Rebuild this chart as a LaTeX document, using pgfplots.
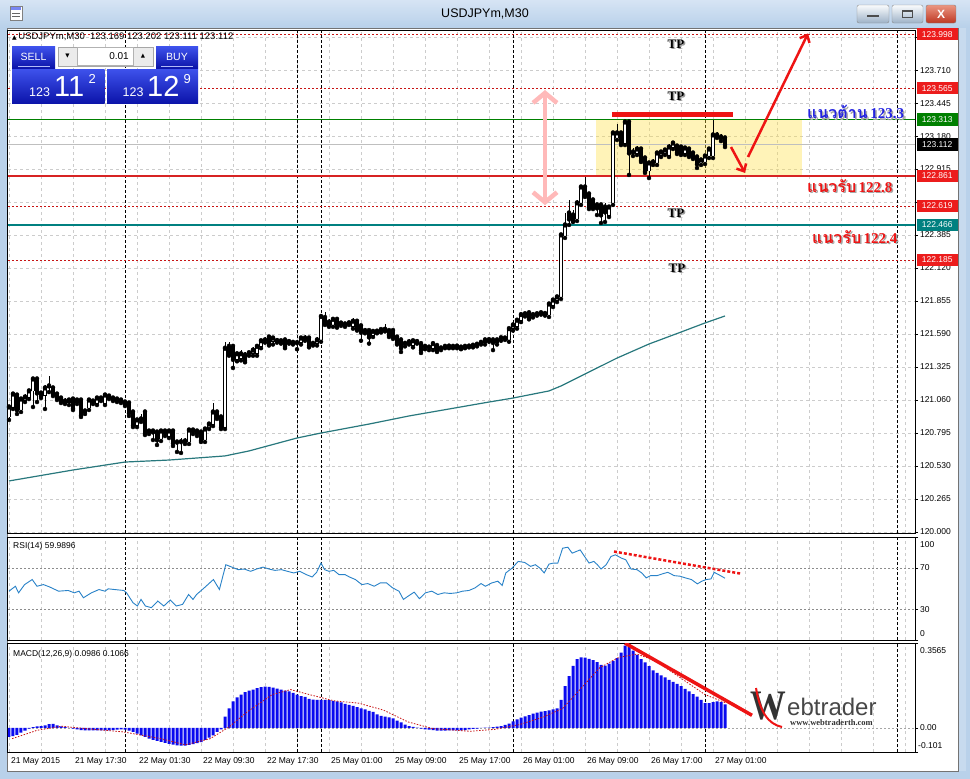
\documentclass[border=0pt]{standalone}
\usepackage{pgfplots}
\pgfplotsset{compat=1.18}
\usepackage{pgfplotstable}
\usetikzlibrary{arrows.meta}
\usepackage{fontspec}
\setmainfont{Liberation Serif}
\newfontfamily\ui{Liberation Sans}
\newfontfamily\thaifont[Script=Thai]{Loma}
\newfontfamily\dv{DejaVu Sans}

\definecolor{frameblue}{RGB}{185,209,234}
\definecolor{titletop}{RGB}{214,228,244}
\definecolor{btnTop}{RGB}{62,82,236}
\definecolor{btnBot}{RGB}{12,20,170}
\definecolor{tagred}{RGB}{236,28,28}
\definecolor{dred}{RGB}{200,20,20}
\definecolor{sred}{RGB}{215,35,35}
\definecolor{lgreen}{RGB}{0,128,0}
\definecolor{lteal}{RGB}{0,128,128}
\definecolor{maline}{RGB}{40,120,125}
\definecolor{rsiline}{RGB}{40,130,200}
\definecolor{macdblue}{RGB}{10,10,240}
\definecolor{ybox}{RGB}{255,225,70}
\definecolor{pinkar}{RGB}{255,185,185}
\definecolor{arred}{RGB}{238,20,20}
\definecolor{thblue}{RGB}{35,35,225}

\pgfplotstableread{
i o h l c
0 120.924 121.020 120.900 121.004
1 121.004 121.124 120.988 121.108
2 121.100 121.116 120.948 120.980
3 120.980 121.084 120.964 121.068
4 121.060 121.108 121.044 121.084
5 121.084 121.149 121.068 121.133
6 121.133 121.245 121.004 121.229
7 121.229 121.245 121.044 121.116
8 121.116 121.133 121.076 121.092
9 121.100 121.181 120.988 121.157
10 121.157 121.253 121.124 121.173
11 121.157 121.173 121.092 121.108
12 121.108 121.124 121.060 121.076
13 121.076 121.092 121.036 121.052
14 121.052 121.076 121.028 121.044
15 121.044 121.076 121.020 121.060
16 121.068 121.084 120.980 120.996
17 121.044 121.076 121.028 121.060
18 121.060 121.076 120.924 120.940
19 120.956 120.988 120.948 120.972
20 120.996 121.076 120.980 121.060
21 121.052 121.068 121.028 121.050
22 121.036 121.092 121.020 121.076
23 121.076 121.092 121.052 121.074
24 121.036 121.116 121.020 121.100
25 121.092 121.108 121.068 121.084
26 121.076 121.092 121.052 121.068
27 121.068 121.084 121.044 121.060
28 121.060 121.076 121.036 121.052
29 121.044 121.060 121.012 121.028
30 121.036 121.052 120.932 120.956
31 120.964 120.980 120.843 120.859
32 120.859 120.916 120.843 120.900
33 120.900 120.948 120.884 120.908
34 120.964 120.980 120.779 120.795
35 120.803 120.827 120.787 120.811
36 120.811 120.827 120.739 120.803
37 120.803 120.819 120.699 120.739
38 120.747 120.827 120.731 120.811
39 120.811 120.819 120.771 120.795
40 120.771 120.827 120.755 120.811
41 120.811 120.819 120.691 120.715
42 120.723 120.739 120.643 120.721
43 120.723 120.755 120.635 120.725
44 120.731 120.755 120.707 120.729
45 120.723 120.835 120.707 120.819
46 120.819 120.835 120.787 120.811
47 120.811 120.827 120.771 120.795
48 120.803 120.819 120.723 120.739
49 120.739 120.843 120.723 120.827
50 120.835 120.884 120.827 120.867
51 120.867 121.036 120.851 120.964
52 120.964 120.980 120.908 120.924
53 120.924 120.940 120.827 120.843
54 120.843 121.528 120.827 121.476
55 121.491 121.528 121.416 121.431
56 121.491 121.506 121.318 121.386
57 121.386 121.446 121.371 121.431
58 121.393 121.461 121.378 121.431
59 121.423 121.446 121.363 121.378
60 121.438 121.453 121.416 121.440
61 121.431 121.483 121.416 121.461
62 121.431 121.506 121.416 121.491
63 121.491 121.551 121.476 121.536
64 121.536 121.566 121.521 121.543
65 121.566 121.581 121.498 121.513
66 121.528 121.573 121.506 121.558
67 121.536 121.558 121.521 121.538
68 121.536 121.551 121.513 121.534
69 121.543 121.558 121.476 121.491
70 121.528 121.543 121.513 121.530
71 121.521 121.536 121.506 121.523
72 121.521 121.536 121.468 121.519
73 121.521 121.573 121.506 121.558
74 121.558 121.581 121.536 121.556
75 121.558 121.573 121.483 121.498
76 121.513 121.536 121.498 121.515
77 121.513 121.566 121.498 121.543
78 121.543 121.753 121.528 121.731
79 121.723 121.768 121.663 121.678
80 121.686 121.708 121.648 121.663
81 121.663 121.723 121.648 121.708
82 121.708 121.723 121.641 121.656
83 121.678 121.693 121.656 121.676
84 121.671 121.686 121.648 121.669
85 121.678 121.693 121.663 121.680
86 121.648 121.716 121.633 121.693
87 121.693 121.708 121.618 121.633
88 121.656 121.671 121.536 121.603
89 121.618 121.641 121.596 121.616
90 121.618 121.633 121.513 121.566
91 121.581 121.626 121.566 121.611
92 121.611 121.633 121.596 121.613
93 121.626 121.641 121.603 121.624
94 121.626 121.671 121.611 121.628
95 121.618 121.633 121.566 121.581
96 121.618 121.633 121.551 121.566
97 121.566 121.581 121.506 121.521
98 121.543 121.558 121.446 121.476
99 121.513 121.536 121.491 121.515
100 121.528 121.551 121.506 121.526
101 121.498 121.551 121.483 121.536
102 121.528 121.551 121.513 121.530
103 121.513 121.528 121.438 121.461
104 121.491 121.513 121.468 121.489
105 121.483 121.498 121.461 121.485
106 121.476 121.528 121.461 121.513
107 121.498 121.513 121.446 121.461
108 121.476 121.491 121.461 121.478
109 121.491 121.506 121.476 121.489
110 121.491 121.506 121.476 121.493
111 121.491 121.506 121.476 121.489
112 121.491 121.506 121.476 121.493
113 121.483 121.498 121.468 121.485
114 121.491 121.506 121.476 121.489
115 121.491 121.506 121.483 121.493
116 121.498 121.513 121.483 121.500
117 121.506 121.521 121.491 121.508
118 121.521 121.536 121.506 121.523
119 121.521 121.558 121.506 121.543
120 121.543 121.558 121.528 121.545
121 121.543 121.558 121.461 121.521
122 121.521 121.558 121.506 121.543
123 121.558 121.573 121.536 121.560
124 121.558 121.573 121.543 121.556
125 121.543 121.648 121.528 121.633
126 121.633 121.678 121.618 121.663
127 121.648 121.716 121.633 121.701
128 121.701 121.761 121.686 121.746
129 121.746 121.768 121.731 121.753
130 121.761 121.776 121.708 121.723
131 121.738 121.761 121.723 121.746
132 121.746 121.768 121.738 121.753
133 121.753 121.776 121.746 121.761
134 121.753 121.768 121.738 121.755
135 121.743 121.847 121.727 121.831
136 121.823 121.880 121.807 121.863
137 121.863 121.904 121.847 121.888
138 121.888 122.402 121.872 122.386
139 122.378 122.562 122.362 122.466
140 122.562 122.667 122.466 122.514
141 122.546 122.586 122.490 122.498
142 122.514 122.667 122.498 122.643
143 122.643 122.787 122.627 122.771
144 122.771 122.851 122.691 122.707
145 122.715 122.731 122.594 122.610
146 122.667 122.683 122.594 122.610
147 122.627 122.643 122.546 122.602
148 122.627 122.643 122.482 122.546
149 122.610 122.643 122.490 122.570
150 122.546 122.627 122.530 122.610
151 122.643 123.221 122.627 123.205
152 123.165 123.277 123.149 123.205
153 123.205 123.221 123.108 123.124
154 123.124 123.309 123.108 123.293
155 123.293 123.309 122.868 123.044
156 123.052 123.084 123.020 123.050
157 123.044 123.100 123.028 123.076
158 123.076 123.092 122.972 122.988
159 123.004 123.020 122.884 122.900
160 122.900 122.980 122.843 122.964
161 122.972 122.996 122.948 122.970
162 122.964 123.060 122.948 123.044
163 123.028 123.068 123.012 123.052
164 123.044 123.084 123.028 123.068
165 123.028 123.116 123.012 123.092
166 123.092 123.140 123.076 123.124
167 123.100 123.116 123.036 123.052
168 123.092 123.108 123.028 123.044
169 123.044 123.100 123.028 123.084
170 123.076 123.092 123.012 123.028
171 123.044 123.060 122.996 123.012
172 123.012 123.028 122.924 122.956
173 122.964 123.004 122.948 122.988
174 122.972 123.036 122.956 123.020
175 123.020 123.092 123.004 123.076
176 123.020 123.309 123.004 123.189
177 123.189 123.213 123.165 123.181
178 123.173 123.197 123.140 123.165
179 123.165 123.181 123.092 123.112
}\candles

\pgfplotstableread{
i v
0 -0.038
1 -0.034
2 -0.029
3 -0.020
4 -0.011
5 -0.003
6 0.003
7 0.007
8 0.008
9 0.011
10 0.016
11 0.017
12 0.011
13 0.007
14 0.004
15 0.000
16 -0.003
17 -0.006
18 -0.009
19 -0.010
20 -0.010
21 -0.010
22 -0.010
23 -0.010
24 -0.010
25 -0.010
26 -0.009
27 -0.007
28 -0.006
29 -0.007
30 -0.011
31 -0.017
32 -0.024
33 -0.031
34 -0.038
35 -0.045
36 -0.050
37 -0.054
38 -0.058
39 -0.063
40 -0.067
41 -0.070
42 -0.073
43 -0.074
44 -0.074
45 -0.071
46 -0.068
47 -0.064
48 -0.060
49 -0.050
50 -0.041
51 -0.031
52 -0.017
53 -0.006
54 0.047
55 0.082
56 0.111
57 0.128
58 0.140
59 0.150
60 0.157
61 0.161
62 0.167
63 0.171
64 0.173
65 0.172
66 0.169
67 0.165
68 0.161
69 0.157
70 0.153
71 0.147
72 0.140
73 0.134
74 0.130
75 0.122
76 0.119
77 0.118
78 0.118
79 0.118
80 0.117
81 0.114
82 0.111
83 0.107
84 0.101
85 0.097
86 0.093
87 0.087
88 0.082
89 0.078
90 0.072
91 0.067
92 0.057
93 0.051
94 0.047
95 0.044
96 0.040
97 0.031
98 0.023
99 0.014
100 0.008
101 0.004
102 0.001
103 -0.003
104 -0.006
105 -0.007
106 -0.009
107 -0.011
108 -0.011
109 -0.011
110 -0.010
111 -0.010
112 -0.010
113 -0.010
114 -0.009
115 -0.006
116 -0.004
117 -0.003
118 0.000
119 0.001
120 0.001
121 0.003
122 0.006
123 0.008
124 0.013
125 0.018
126 0.028
127 0.036
128 0.043
129 0.049
130 0.054
131 0.060
132 0.064
133 0.068
134 0.071
135 0.074
136 0.078
137 0.082
138 0.118
139 0.175
140 0.218
141 0.260
142 0.289
143 0.296
144 0.295
145 0.290
146 0.285
147 0.276
148 0.265
149 0.262
150 0.270
151 0.282
152 0.293
153 0.316
154 0.346
155 0.339
156 0.325
157 0.307
158 0.289
159 0.275
160 0.259
161 0.242
162 0.231
163 0.221
164 0.212
165 0.202
166 0.193
167 0.185
168 0.175
169 0.164
170 0.154
171 0.142
172 0.131
173 0.118
174 0.104
175 0.104
176 0.108
177 0.111
178 0.108
179 0.0986
}\macdhist

\pgfplotsset{
 mt/.style={
  scale only axis, width=907pt, xmin=-0.25, xmax=226.5,
  anchor=north west,
  axis line style={black, line width=1pt},
  xtick={0,8,...,224}, xticklabels={},
  xtick style={draw=none},
  xmajorgrids=true,
  major grid style={black!20, dash pattern=on 3pt off 3pt, line width=0.6pt},
  extra x ticks={29,72,78,126,174,222},
  extra x tick labels={},
  extra x tick style={xmajorgrids=true, major grid style={black, dash pattern=on 3pt off 2pt, line width=0.8pt}},
  ytick pos=right, yticklabel pos=right,
  ytick style={black, line width=0.8pt},
  major tick length=3pt, tick align=outside,
  ticklabel style={font=\ui\fontsize{8.5}{9}\selectfont},
  yticklabel style={xshift=-1.5pt},
 }
}
\tikzset{
 tag/.style={anchor=west, minimum width=41pt, minimum height=12.5pt, inner sep=0pt, text=white, font=\ui\fontsize{8.5}{9}\selectfont},
 tp/.style={font=\rmfamily\bfseries\fontsize{13}{13}\selectfont},
}

\begin{document}
\begin{tikzpicture}
\useasboundingbox (0,0) rectangle (970pt,-779pt);
\begin{scope}[x=1pt,y=-1pt]
 \fill[frameblue] (0,0) rectangle (970,779);
 \shade[top color=titletop, bottom color=frameblue] (0,0) rectangle (970,27);
 \fill[white] (7,28) rectangle (958,771);
 \draw[black!55, line width=0.6pt] (7,28) rectangle (958,771);
 \fill[frameblue!80!white] (959,28) rectangle (966,771);
 \node[font=\ui\fontsize{12.5}{13}\selectfont] at (485,14) {USDJPYm,M30};
 % window icon
 \fill[white, draw=black!50] (10,6) rectangle (22,20);
 \fill[btnTop!70] (11,7) rectangle (21,10);
 \draw[black!60] (12,13) -- (20,13) (12,16) -- (20,16);
 % caption buttons
 \shade[top color=white!92!frameblue, bottom color=frameblue!85!black, draw=black!45, rounded corners=2pt] (857,5) rectangle (889,23);
 \fill[black!70] (867,14.5) rectangle (879,17);
 \shade[top color=white!92!frameblue, bottom color=frameblue!85!black, draw=black!45, rounded corners=2pt] (892,5) rectangle (923,23);
 \draw[black!70, line width=1pt] (902.5,10) rectangle (912.5,17.5);
 \fill[black!70] (902,9.5) rectangle (913,12);
 \shade[top color={rgb,255:red,235;green,150;blue,130}, bottom color={rgb,255:red,190;green,55;blue,35}, draw=black!50, rounded corners=2pt] (926,5) rectangle (956,23);
 \node[white, font=\ui\bfseries\fontsize{12}{12}\selectfont] at (941,14) {X};
\end{scope}

% ================= price panel =================
\begin{axis}[mt, at={(8pt,-30pt)}, height=503pt, ymin=119.992, ymax=124.032, ymajorgrids=true,
 ytick={120,120.265,120.53,120.795,121.06,121.325,121.59,121.855,122.12,122.385,122.65,122.915,123.18,123.445,123.71,123.975},
 yticklabels={120.000,120.265,120.530,120.795,121.060,121.325,121.590,121.855,122.120,122.385,,122.915,123.180,123.445,123.710,}]
 % zone
 \fill[ybox, fill opacity=0.38] (axis cs:146.75,122.861) rectangle (axis cs:198.25,123.313);
 % level lines
 \draw[black!25, line width=0.8pt] (axis cs:-0.25,123.112) -- (axis cs:226.5,123.112);
 \draw[dred, line width=0.8pt, dash pattern=on 2pt off 2pt] (axis cs:-0.25,123.998) -- (axis cs:226.5,123.998);
 \draw[dred, line width=0.8pt, dash pattern=on 2pt off 2pt] (axis cs:-0.25,123.565) -- (axis cs:226.5,123.565);
 \draw[dred, line width=0.8pt, dash pattern=on 2pt off 2pt] (axis cs:-0.25,122.619) -- (axis cs:226.5,122.619);
 \draw[dred, line width=0.8pt, dash pattern=on 2pt off 2pt] (axis cs:-0.25,122.185) -- (axis cs:226.5,122.185);
 \draw[lgreen, line width=1.6pt] (axis cs:-0.25,123.313) -- (axis cs:226.5,123.313);
 \draw[sred, line width=1.6pt] (axis cs:-0.25,122.861) -- (axis cs:226.5,122.861);
 \draw[lteal, line width=1.6pt] (axis cs:-0.25,122.466) -- (axis cs:226.5,122.466);
 % moving average
 \addplot[maline, line width=1.2pt] coordinates {
  (0,120.410) (16,120.498) (29,120.562) (40,120.578) (54,120.611) (60,120.651)
  (72,120.755) (78,120.795) (90,120.867) (100,120.932) (110,120.988) (120,121.044)
  (126,121.076) (135,121.133) (138,121.173) (145,121.285) (152,121.397) (160,121.510)
  (168,121.606) (174,121.679) (179,121.735)};
 % candles: wicks
 \addplot[only marks, mark=none, error bars/.cd, y dir=plus, y explicit, error mark=none,
   error bar style={black, solid, line width=0.9pt}]
   table[x=i, y=l, y error plus expr={\thisrow{h}-\thisrow{l}}] {\candles};
 % bodies
 \addplot[only marks, mark=none, error bars/.cd, y dir=minus, y explicit, error mark=none,
   error bar style={black, solid, line width=3.4pt}]
   table[x=i, y expr={max(\thisrow{o},\thisrow{c})+0.004}, y error minus expr={abs(\thisrow{o}-\thisrow{c})+0.008}] {\candles};
 % bull interiors
 \addplot[only marks, mark=none, error bars/.cd, y dir=minus, y explicit, error mark=none,
   error bar style={white, solid, line width=1.6pt}]
   table[x=i, y expr={\thisrow{c}-0.003}, y error minus expr={max(\thisrow{c}-\thisrow{o}-0.006,0)}] {\candles};
 % annotations
 \draw[pinkar, line width=4.5pt, {Straight Barb[length=10pt,width=24pt]}-{Straight Barb[length=10pt,width=24pt]}] (axis cs:134,122.625) -- (axis cs:134,123.55);
 \draw[arred, line width=5pt] (axis cs:150.75,123.350) -- (axis cs:181,123.350);
 \draw[arred, line width=2.5pt, -{Straight Barb[length=6pt,width=11pt]}] (axis cs:180.5,123.092) -- (axis cs:184,122.884);
 \draw[arred, line width=2.5pt, -{Straight Barb[length=6pt,width=11pt]}] (axis cs:184.75,123.012) -- (axis cs:199.75,124.004);
 \node[tp, text=black!40] at ([xshift=1.5pt,yshift=-1.5pt]axis cs:166.75,123.920) {TP};
 \node[tp] at (axis cs:166.75,123.920) {TP};
 \node[tp, text=black!40] at ([xshift=1.5pt,yshift=-1.5pt]axis cs:166.75,123.502) {TP};
 \node[tp] at (axis cs:166.75,123.502) {TP};
 \node[tp, text=black!40] at ([xshift=1.5pt,yshift=-1.5pt]axis cs:166.75,122.562) {TP};
 \node[tp] at (axis cs:166.75,122.562) {TP};
 \node[tp, text=black!40] at ([xshift=1.5pt,yshift=-1.5pt]axis cs:167,122.120) {TP};
 \node[tp] at (axis cs:167,122.120) {TP};
 \node[anchor=west, text=black!35, inner sep=0pt] at ([xshift=1.5pt,yshift=-1.5pt]axis cs:199.5,123.373) {{\thaifont\bfseries\fontsize{16}{16}\selectfont แนวต้าน} {\rmfamily\bfseries\fontsize{15}{15}\selectfont 123.3}};
 \node[anchor=west, text=thblue, inner sep=0pt] at (axis cs:199.5,123.373) {{\thaifont\bfseries\fontsize{16}{16}\selectfont แนวต้าน} {\rmfamily\bfseries\fontsize{15}{15}\selectfont 123.3}};
 \node[anchor=west, text=black!35, inner sep=0pt] at ([xshift=1.5pt,yshift=-1.5pt]axis cs:199.5,122.779) {{\thaifont\bfseries\fontsize{16}{16}\selectfont แนวรับ} {\rmfamily\bfseries\fontsize{15}{15}\selectfont 122.8}};
 \node[anchor=west, text=arred, inner sep=0pt] at (axis cs:199.5,122.779) {{\thaifont\bfseries\fontsize{16}{16}\selectfont แนวรับ} {\rmfamily\bfseries\fontsize{15}{15}\selectfont 122.8}};
 \node[anchor=west, text=black!35, inner sep=0pt] at ([xshift=1.5pt,yshift=-1.5pt]axis cs:200.75,122.369) {{\thaifont\bfseries\fontsize{16}{16}\selectfont แนวรับ} {\rmfamily\bfseries\fontsize{15}{15}\selectfont 122.4}};
 \node[anchor=west, text=arred, inner sep=0pt] at (axis cs:200.75,122.369) {{\thaifont\bfseries\fontsize{16}{16}\selectfont แนวรับ} {\rmfamily\bfseries\fontsize{15}{15}\selectfont 122.4}};
 % tag anchors
 \coordinate (T1) at (axis cs:226.5,123.998);
 \coordinate (T2) at (axis cs:226.5,123.565);
 \coordinate (T3) at (axis cs:226.5,123.313);
 \coordinate (T4) at (axis cs:226.5,123.112);
 \coordinate (T5) at (axis cs:226.5,122.861);
 \coordinate (T6) at (axis cs:226.5,122.619);
 \coordinate (T7) at (axis cs:226.5,122.466);
 \coordinate (T8) at (axis cs:226.5,122.185);
\end{axis}

% ================= RSI panel =================
\begin{axis}[mt, at={(8pt,-537pt)}, height=103pt, ymin=0, ymax=100,
 ytick={0,30,70,100}, yticklabels={,30,70,}]
 \draw[black!45, line width=0.7pt, dash pattern=on 2pt off 2pt] (axis cs:-0.25,70) -- (axis cs:226.5,70);
 \draw[black!45, line width=0.7pt, dash pattern=on 2pt off 2pt] (axis cs:-0.25,30) -- (axis cs:226.5,30);
 \addplot[rsiline, line width=0.9pt] coordinates {
 (0,47.4)(1.6,52.2)(2.4,45.8)(3.9,53.8)(5.8,58.7)(7,52.2)(8.6,53.8)(10.1,51.6)(12.4,47.4)(14.8,48.1)
 (16.3,45.8)(17.5,47.4)(18.6,41.0)(20.6,45.8)(22.5,49.0)(24,47.4)(24.8,49.7)(26.4,49.0)(28.7,48.1)(29.4,45.8)
 (31,36.2)(32.1,33.0)(33,39.4)(34.1,33.0)(35.6,31.4)(37.2,37.8)(38.7,33.0)(40.3,38.8)(41.8,33.0)(43.4,34.6)
 (44.9,44.2)(46,39.4)(46.9,44.2)(48.8,50.6)(51.1,58.7)(52.6,49.0)(54.2,73.1)(55.7,70.8)(57.3,68.3)(58.8,68.9)
 (60.4,66.7)(61.9,68.9)(63.5,70.8)(65,68.9)(66.5,67.6)(68.1,68.3)(69.6,66.7)(71.2,65.1)(72.7,66.7)(74.3,63.5)
 (75.8,61.2)(76.9,65.7)(78,74.7)(78.9,68.3)(80,66.7)(81.2,67.6)(82.5,63.5)(84,63.5)(85.1,61.2)(86.6,58.7)
 (88.2,53.8)(89.7,54.8)(91.3,52.2)(92.8,55.4)(94.4,55.4)(95.9,50.6)(97.5,47.4)(98.6,39.4)(99.8,42.6)(101.3,46.5)
 (102.6,40.1)(104.1,45.8)(105.7,47.4)(107.2,44.2)(108.8,45.8)(110.3,45.2)(111.9,45.8)(113.4,47.4)(115,48.1)(116.5,50.6)
 (118,54.8)(119.1,52.2)(120.7,55.4)(122.2,57.1)(123.3,52.9)(124.2,65.1)(125.8,69.9)(127.3,76.3)(128.9,75.3)(130.4,71.5)
 (131.6,73.1)(132.7,69.9)(133.8,65.1)(135,73.7)(136.1,74.7)(137.2,74.7)(138.4,89.1)(139.7,90.1)(140.8,84.3)(141.8,85.9)
 (142.8,87.5)(143.9,81.1)(145,74.7)(146.2,76.3)(147.1,73.1)(148,68.9)(149.3,73.1)(150.5,81.1)(151.6,82.7)(153.1,79.5)
 (154.2,77.9)(155.5,68.9)(157,68.3)(158.2,65.1)(159.3,60.3)(160.4,62.5)(162,62.5)(163.5,64.4)(164.7,65.7)(166.3,62.5)
 (167.8,61.9)(169.1,60.3)(170.6,58.7)(172.1,54.5)(173.2,57.1)(174.3,58.7)(175.5,59.3)(176.3,65.7)(177.4,63.5)(179,60.0)};
 \draw[arred, line width=2.5pt, dash pattern=on 3pt off 2pt] (axis cs:151.25,85.9) -- (axis cs:183,64.4);
\end{axis}

% ================= MACD panel =================
\begin{axis}[mt, at={(8pt,-643pt)}, height=109pt, ymin=-0.101, ymax=0.3565,
 ytick={-0.101,0,0.3565}, yticklabels={,0.00,},
 xticklabels={21 May 2015,,21 May 17:30,,22 May 01:30,,22 May 09:30,,22 May 17:30,,25 May 01:00,,25 May 09:00,,25 May 17:00,,26 May 01:00,,26 May 09:00,,26 May 17:00,,27 May 01:00,,,,,,},
 xticklabel style={anchor=north west, xshift=-1.5pt, yshift=1pt}]
 \draw[black!35, line width=0.6pt, dash pattern=on 2pt off 2pt] (axis cs:-0.25,0) -- (axis cs:226.5,0);
 \addplot[ybar, bar width=3pt, fill=macdblue, draw=none] table[x=i, y=v] {\macdhist};
 \addplot[dred, line width=0.8pt, dash pattern=on 1.5pt off 1.5pt] coordinates {
 (0.8,-0.045)(7,-0.010)(13.2,0.007)(19.4,-0.003)(28.7,-0.017)(38,-0.045)(44.1,-0.071)(50.3,-0.045)
 (55,0.004)(59.6,0.068)(65.8,0.140)(70.4,0.161)(75.1,0.140)(81.2,0.114)(87.4,0.104)(93.6,0.075)
 (99.8,0.025)(106,-0.003)(115.3,-0.014)(121.4,-0.006)(127.6,0.014)(133.8,0.047)(138.4,0.082)(143.1,0.168)
 (147.7,0.253)(152.4,0.296)(157,0.310)(161.6,0.282)(167.8,0.211)(174,0.140)(179,0.1066)};
 \draw[arred, line width=3.5pt] (axis cs:154,0.356) -- (axis cs:185.75,0.053);
\end{axis}

% ================= price tags =================
\node[tag, fill=tagred] at ([xshift=1.5pt]T1) {123.998};
\node[tag, fill=tagred] at ([xshift=1.5pt]T2) {123.565};
\node[tag, fill=lgreen] at ([xshift=1.5pt]T3) {123.313};
\node[tag, fill=black] at ([xshift=1.5pt]T4) {123.112};
\node[tag, fill=tagred] at ([xshift=1.5pt]T5) {122.861};
\node[tag, fill=tagred] at ([xshift=1.5pt]T6) {122.619};
\node[tag, fill=lteal] at ([xshift=1.5pt]T7) {122.466};
\node[tag, fill=tagred] at ([xshift=1.5pt]T8) {122.185};

\begin{scope}[x=1pt,y=-1pt]
 % sub-window scale labels
 \node[anchor=west, inner sep=0pt, font=\ui\fontsize{8.5}{9}\selectfont] at (920,545) {100};
 \node[anchor=west, inner sep=0pt, font=\ui\fontsize{8.5}{9}\selectfont] at (920,634) {0};
 \node[anchor=west, inner sep=0pt, font=\ui\fontsize{8.5}{9}\selectfont] at (920,651) {0.3565};
 \node[anchor=west, inner sep=0pt, font=\ui\fontsize{8.5}{9}\selectfont] at (918,746) {-0.101};
 \node[anchor=west, inner sep=0pt, font=\ui\fontsize{8.5}{9}\selectfont] at (13,546) {RSI(14) 59.9896};
 \node[anchor=west, inner sep=0pt, font=\ui\fontsize{8.5}{9}\selectfont] at (13,654) {MACD(12,26,9) 0.0986 0.1066};
 % chart header
 \node[anchor=west, inner sep=0pt, font=\ui\fontsize{9.5}{10}\selectfont] at (12,37) {{\dv\fontsize{6}{6}\selectfont ▲}\,USDJPYm,M30\ \ 123.169 123.202 123.111 123.112};
 % one-click trading panel
 \shade[top color=btnTop, bottom color=btnBot] (12,46.5) rectangle (55,68);
 \node[white, font=\ui\fontsize{10.5}{11}\selectfont] at (33.5,56.5) {SELL};
 \draw[white!60!btnTop, line width=0.8pt] (18,66) -- (50,66);
 \shade[top color=btnTop, bottom color=btnBot] (156,46.5) rectangle (198,68);
 \node[white, font=\ui\fontsize{10.5}{11}\selectfont] at (177,56.5) {BUY};
 \draw[white!60!btnTop, line width=0.8pt] (161,66) -- (193,66);
 \fill[black!8, draw=black!35] (58,47) rectangle (153,66);
 \fill[white, draw=black!30] (77,47.5) rectangle (133,65.5);
 \node[font=\dv\fontsize{5.5}{6}\selectfont] at (67.5,56.5) {▼};
 \node[font=\dv\fontsize{5.5}{6}\selectfont] at (143,56.5) {▲};
 \node[anchor=east, inner sep=0pt, font=\ui\fontsize{10}{10}\selectfont] at (129,56.5) {0.01};
 \shade[top color=btnTop, bottom color=btnBot] (12,69) rectangle (104.5,103);
 \shade[top color=btnTop, bottom color=btnBot] (107,69) rectangle (198,103);
 \node[anchor=base west, inner sep=0pt, white, font=\ui\fontsize{12.5}{13}\selectfont] at (29,96.5) {123};
 \node[anchor=base west, inner sep=0pt, white, font=\ui\fontsize{29}{29}\selectfont] at (54,96.5) {11};
 \node[anchor=base west, inner sep=0pt, white, font=\ui\fontsize{13}{13}\selectfont] at (88.5,83) {2};
 \node[anchor=base west, inner sep=0pt, white, font=\ui\fontsize{12.5}{13}\selectfont] at (122.5,96.5) {123};
 \node[anchor=base west, inner sep=0pt, white, font=\ui\fontsize{29}{29}\selectfont] at (147,96.5) {12};
 \node[anchor=base west, inner sep=0pt, white, font=\ui\fontsize{13}{13}\selectfont] at (183.5,83) {9};
 % Webtrader logo
 \node[anchor=base west, inner sep=0pt, text=black!80, font=\rmfamily\bfseries\fontsize{42}{42}\selectfont, xscale=0.85] at (750,719) {W};
 \draw[arred, line width=2pt] (756,688) .. controls (760,712) and (768,724) .. (782,727);
 \node[anchor=base west, inner sep=0pt, text=black!72, font=\ui\fontsize{24}{24}\selectfont] at (787,715) {ebtrader};
 \node[anchor=west, inner sep=0pt, text=black!80, font=\rmfamily\bfseries\fontsize{8.5}{9}\selectfont] at (790,723) {www.webtraderth.com};
\end{scope}
\end{tikzpicture}
\end{document}
